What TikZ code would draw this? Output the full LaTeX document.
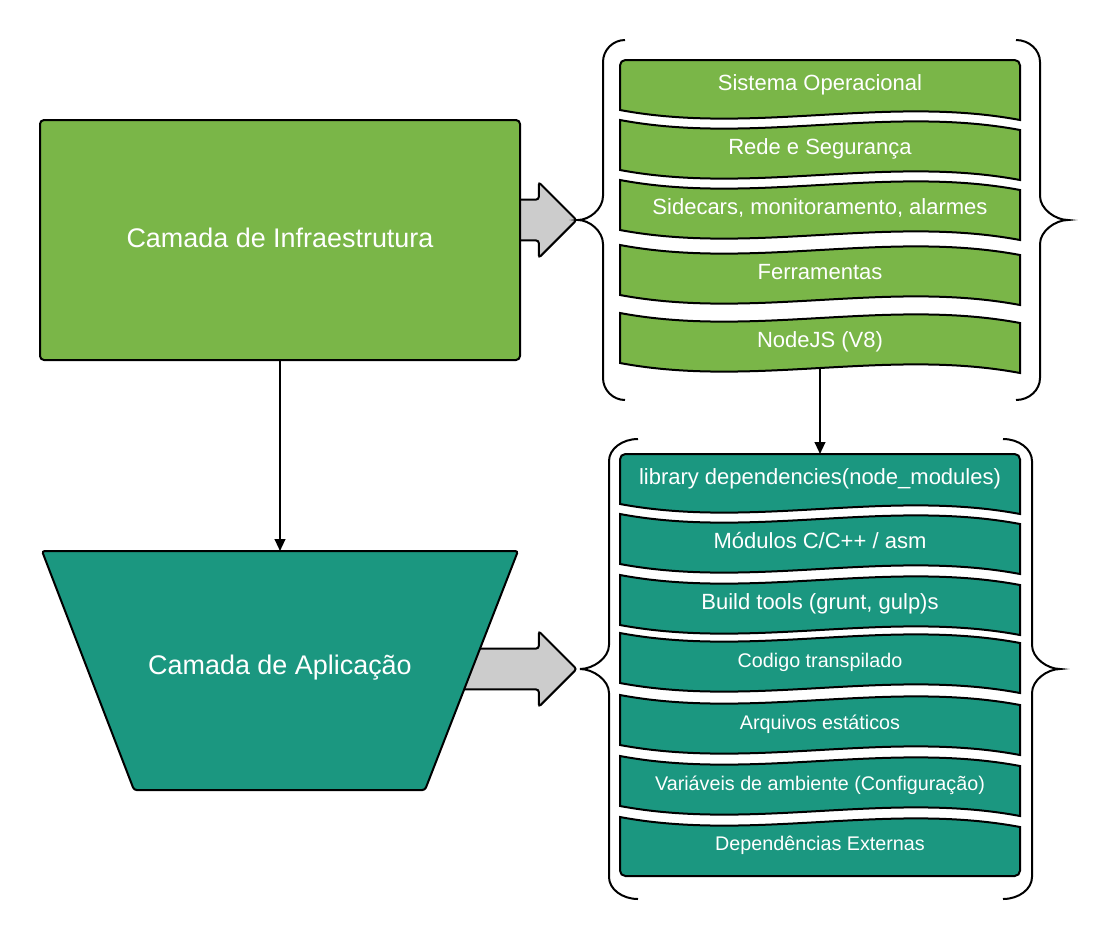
\documentclass[tikz,border=0pt]{standalone}
\usepackage{fontspec}
\setmainfont{Liberation Sans}
\usepackage{tikz}
\usetikzlibrary{arrows.meta}
\usetikzlibrary{positioning, shapes.arrows, shapes.geometric}
\definecolor{infra green}{HTML}{7AB648}
\definecolor{app teal}{HTML}{1B9780}
\definecolor{arrow gray}{HTML}{CCCCCC}
\newcommand{\layerfont}{\fontsize{20.2}{24}\selectfont}
\newcommand{\boxfont}{\fontsize{16.5}{19}\selectfont}
\newcommand{\minorfont}{\fontsize{14.8}{17}\selectfont}
\tikzset{
layer/.style = { draw = black, line width = 1.5pt, text = white, font = \layerfont },
infra layer/.style = { layer, rectangle, fill = infra green, minimum width = 360pt, minimum height = 180pt, rounded corners = 3pt, text depth = 4pt },
app layer/.style = { draw = black, line width = 1.5pt, fill = app teal, rounded corners = 2pt },
layer text/.style = { text = white, font = \layerfont, inner sep = 0pt },
fat arrow/.style = { single arrow, draw = black, fill = arrow gray, line width = 1.5pt, single arrow head extend = 13pt, inner xsep = 0pt, inner ysep = 14.6pt, rounded corners = 2pt },
box text/.style = { text = white, font = \boxfont, inner sep = 0pt, text height = 11pt, text depth = 0pt },
link/.style = { draw = black, line width = 1.5pt, -{Triangle[length = 9pt, width = 8pt]} },
}
\tikzset{
pics/top box/.style args={#1, #2}{
        code = {
        \path[draw = black, fill = #2, line width = 1.5pt] (0, 50) [rounded corners = 4pt] -- (0, 0) -- (400, 0) [sharp corners] -- (400, 60) .. controls (267, 35) and (133, 75) .. (0, 50) -- cycle;
        \node[box text] (-t) at (200, 23) {#1};
        \coordinate (-n) at (200, 0);
        }
    },
pics/mid box/.style args={#1, #2}{
        code = {
        \path[draw = black, fill = #2, line width = 1.5pt] (0, 0) .. controls (133, 25) and (267, -15) .. (400, 10) -- (400, 60) .. controls (267, 35) and (133, 75) .. (0, 50) -- cycle;
        \node[box text] (-t) at (200, 27) {#1};
        \coordinate (-n) at (200, 5);
        \coordinate (-s) at (200, 55);
        }
    },
pics/end box/.style args={#1, #2}{
        code = {
        \path[draw = black, fill = #2, line width = 1.5pt] (0, 0) .. controls (133, 25) and (267, -15) .. (400, 10) [rounded corners = 4pt] -- (400, 59) -- (0, 59) [sharp corners] -- cycle;
        \node[box text] (-t) at (200, 26) {#1};
        }
    },
pics/brace/.style args={#1, #2, #3}{
        code = {
        % #1 half height, #2 stem offset, #3 end offset
        \draw[line width = 1.5pt] (#3, -#1) .. controls ({(#2) + 0.45*((#3) - (#2))}, -#1) and (#2, -#1 + 10) .. (#2, -#1 + 22)
            -- (#2, -24) .. controls (#2, -11) and ({0.45*(#2)}, 0) .. (0, 0)
            .. controls ({0.45*(#2)}, 0) and (#2, 11) .. (#2, 24)
            -- (#2, #1 - 22) .. controls (#2, #1 - 10) and ({(#2) + 0.45*((#3) - (#2))}, #1) .. (#3, #1);
        }
    }
}

\begin{document}
\begin{tikzpicture}[x = 0.75pt, y = -0.75pt]
    \useasboundingbox (0, 0) rectangle (1100, 940);
    % block arrows first, the layers hide their tails
    \node[fat arrow, minimum height = 60pt, anchor = tip] (infra arrow) at (578, 220) {};
    \node[fat arrow, minimum height = 105pt, anchor = tip] (app arrow) at (578, 669) {};
    \node[infra layer] (infra) at (280, 240) {Camada de Infraestrutura};
    \path[app layer] (42, 551) -- (518, 551) -- (425, 790) -- (134, 790) -- cycle;
    \coordinate (app top) at (280, 551);
    \node[layer text] (app) at (280, 668) {Camada de Aplicação};
    \draw[link] (infra) -- (app top);
    % infrastructure stack
    \pic (os) at (620, 60) {top box = {Sistema Operacional, infra green}};
    \pic (net) at (620, 120) {mid box = {Rede e Segurança, infra green}};
    \pic (sidecars) at (620, 180) {mid box = {{Sidecars, monitoramento, alarmes}, infra green}};
    \pic (tools) at (620, 245) {mid box = {Ferramentas, infra green}};
    \pic (nodejs) at (620, 313) {mid box = {NodeJS (V8), infra green}};
    % application stack
    \pic (libs) at (620, 454) {top box = {library dependencies(node\_modules), app teal}};
    \pic (native) at (620, 514) {mid box = {Módulos C/C++ / asm, app teal}};
    \pic (build) at (620, 575) {mid box = {{Build tools (grunt, gulp)s}, app teal}};
    \pic (transpiled) at (620, 633) {mid box = {{\minorfont Codigo transpilado}, app teal}};
    \pic (static) at (620, 695) {mid box = {{\minorfont Arquivos estáticos}, app teal}};
    \pic (env) at (620, 756) {mid box = {{\minorfont Variáveis de ambiente (Configuração)}, app teal}};
    \pic (external) at (620, 817) {end box = {{\minorfont Dependências Externas}, app teal}};
    \draw[link] (nodejs-s) -- (libs-n);
    % braces
    \pic at (578, 220) {brace = {180, 25, 47}};
    \pic at (1068, 220) {brace = {180, -28, -52}};
    \pic at (580, 669) {brace = {230, 29, 58}};
    \pic at (1060, 669) {brace = {230, -28, -57}};
\end{tikzpicture}
\end{document}
